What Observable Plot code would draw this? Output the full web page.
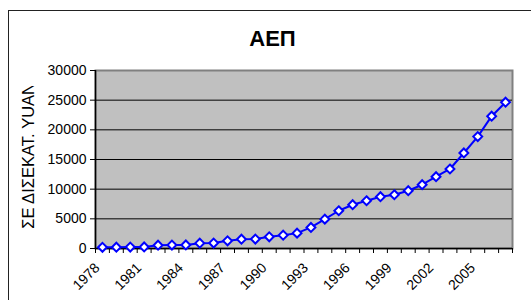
<!DOCTYPE html>
<html>
<head>
<meta charset="utf-8">
<script src="https://cdn.jsdelivr.net/npm/d3@7"></script>
<script src="https://cdn.jsdelivr.net/npm/@observablehq/plot@0.6"></script>
<style>
  html, body { margin: 0; padding: 0; background: #fff; overflow: hidden; }
  #wrap { position: relative; width: 531px; height: 300px; overflow: hidden; font-family: "Liberation Sans", Arial, sans-serif; }
  #outer { position: absolute; left: 8px; top: 10px; width: 600px; height: 400px; border: 1.5px solid #222; box-sizing: border-box; }
  #title { position: absolute; left: 8px; width: 529px; top: 26px; text-align: center; font-weight: bold; font-size: 22px; color: #000; }
  #ylab { position: absolute; left: 15px; top: 86px; width: 26px; height: 143px; overflow: hidden; }
  #ylab span { position: absolute; bottom: 0; left: 0; white-space: nowrap; writing-mode: vertical-rl; transform: rotate(180deg); font-size: 16.5px; line-height: 26px; color: #000; }
  #chart { position: absolute; left: 0; top: 0; }
</style>
</head>
<body>
<div id="wrap">
  <div id="outer"></div>
  <div id="chart"></div>
  <div id="title">ΑΕΠ</div>
  <div id="ylab"><span>ΣΕ ΔΙΣΕΚΑΤ. YUAN</span></div>
</div>
<script>
const years = [1978,1979,1980,1981,1982,1983,1984,1985,1986,1987,1988,1989,1990,1991,1992,1993,1994,1995,1996,1997,1998,1999,2000,2001,2002,2003,2004,2005,2006,2007];
const gdp = [200,220,240,260,560,580,600,900,920,1290,1570,1590,1970,2250,2590,3550,4950,6360,7380,8050,8730,9060,9740,10750,12100,13400,16100,18860,22300,24660];
const labelYears = [1978,1981,1984,1987,1990,1993,1996,1999,2002,2005];
const yTicks = [0,5000,10000,15000,20000,25000,30000];
const gridTicks = [5000,10000,15000,20000,25000];

const data = years.map((yr, i) => ({year: yr, value: gdp[i]}));
const x0 = years[0] - 0.5, x1 = years[years.length - 1] + 0.5;
const boundaries = years.map(y => y - 0.5).concat([x1]);

const chart = Plot.plot({
  width: 531,
  height: 300,
  marginLeft: 95,
  marginRight: 19,
  marginTop: 70,
  marginBottom: 52,
  style: { fontFamily: "'Liberation Sans', Arial, sans-serif", fontSize: "14px", background: "transparent", color: "#000", overflow: "visible" },
  x: { type: "linear", domain: [x0, x1] },
  y: { domain: [0, 30000] },
  marks: [
    Plot.frame({ fill: "#c0c0c0", stroke: "#808080", strokeWidth: 2 }),
    Plot.gridY(gridTicks, { stroke: "#000", strokeOpacity: 1, strokeWidth: 1 }),
    Plot.axisY({ ticks: yTicks, tickSize: 5, tickPadding: 4, tickFormat: d3.format("d"), label: null, stroke: "#000" }),
    Plot.axisX({ ticks: boundaries, tickSize: 5, tickFormat: () => "", label: null, stroke: "#000" }),
    Plot.axisX({ ticks: labelYears, tickSize: 0, tickPadding: 17, dx: -5, tickRotate: -45, textAnchor: "end", tickFormat: d3.format("d"), label: null }),
    Plot.ruleY([0], { stroke: "#000", strokeWidth: 1.5 }),
    Plot.ruleX([x0], { stroke: "#000", strokeWidth: 1.5 }),
    Plot.line(data, { x: "year", y: "value", stroke: "#0000ff", strokeWidth: 2 }),
    Plot.dot(data, { x: "year", y: "value", symbol: "diamond2", r: 4, fill: "#fff", stroke: "#0000ff", strokeWidth: 2 })
  ]
});
document.getElementById("chart").appendChild(chart);
</script>
</body>
</html>
